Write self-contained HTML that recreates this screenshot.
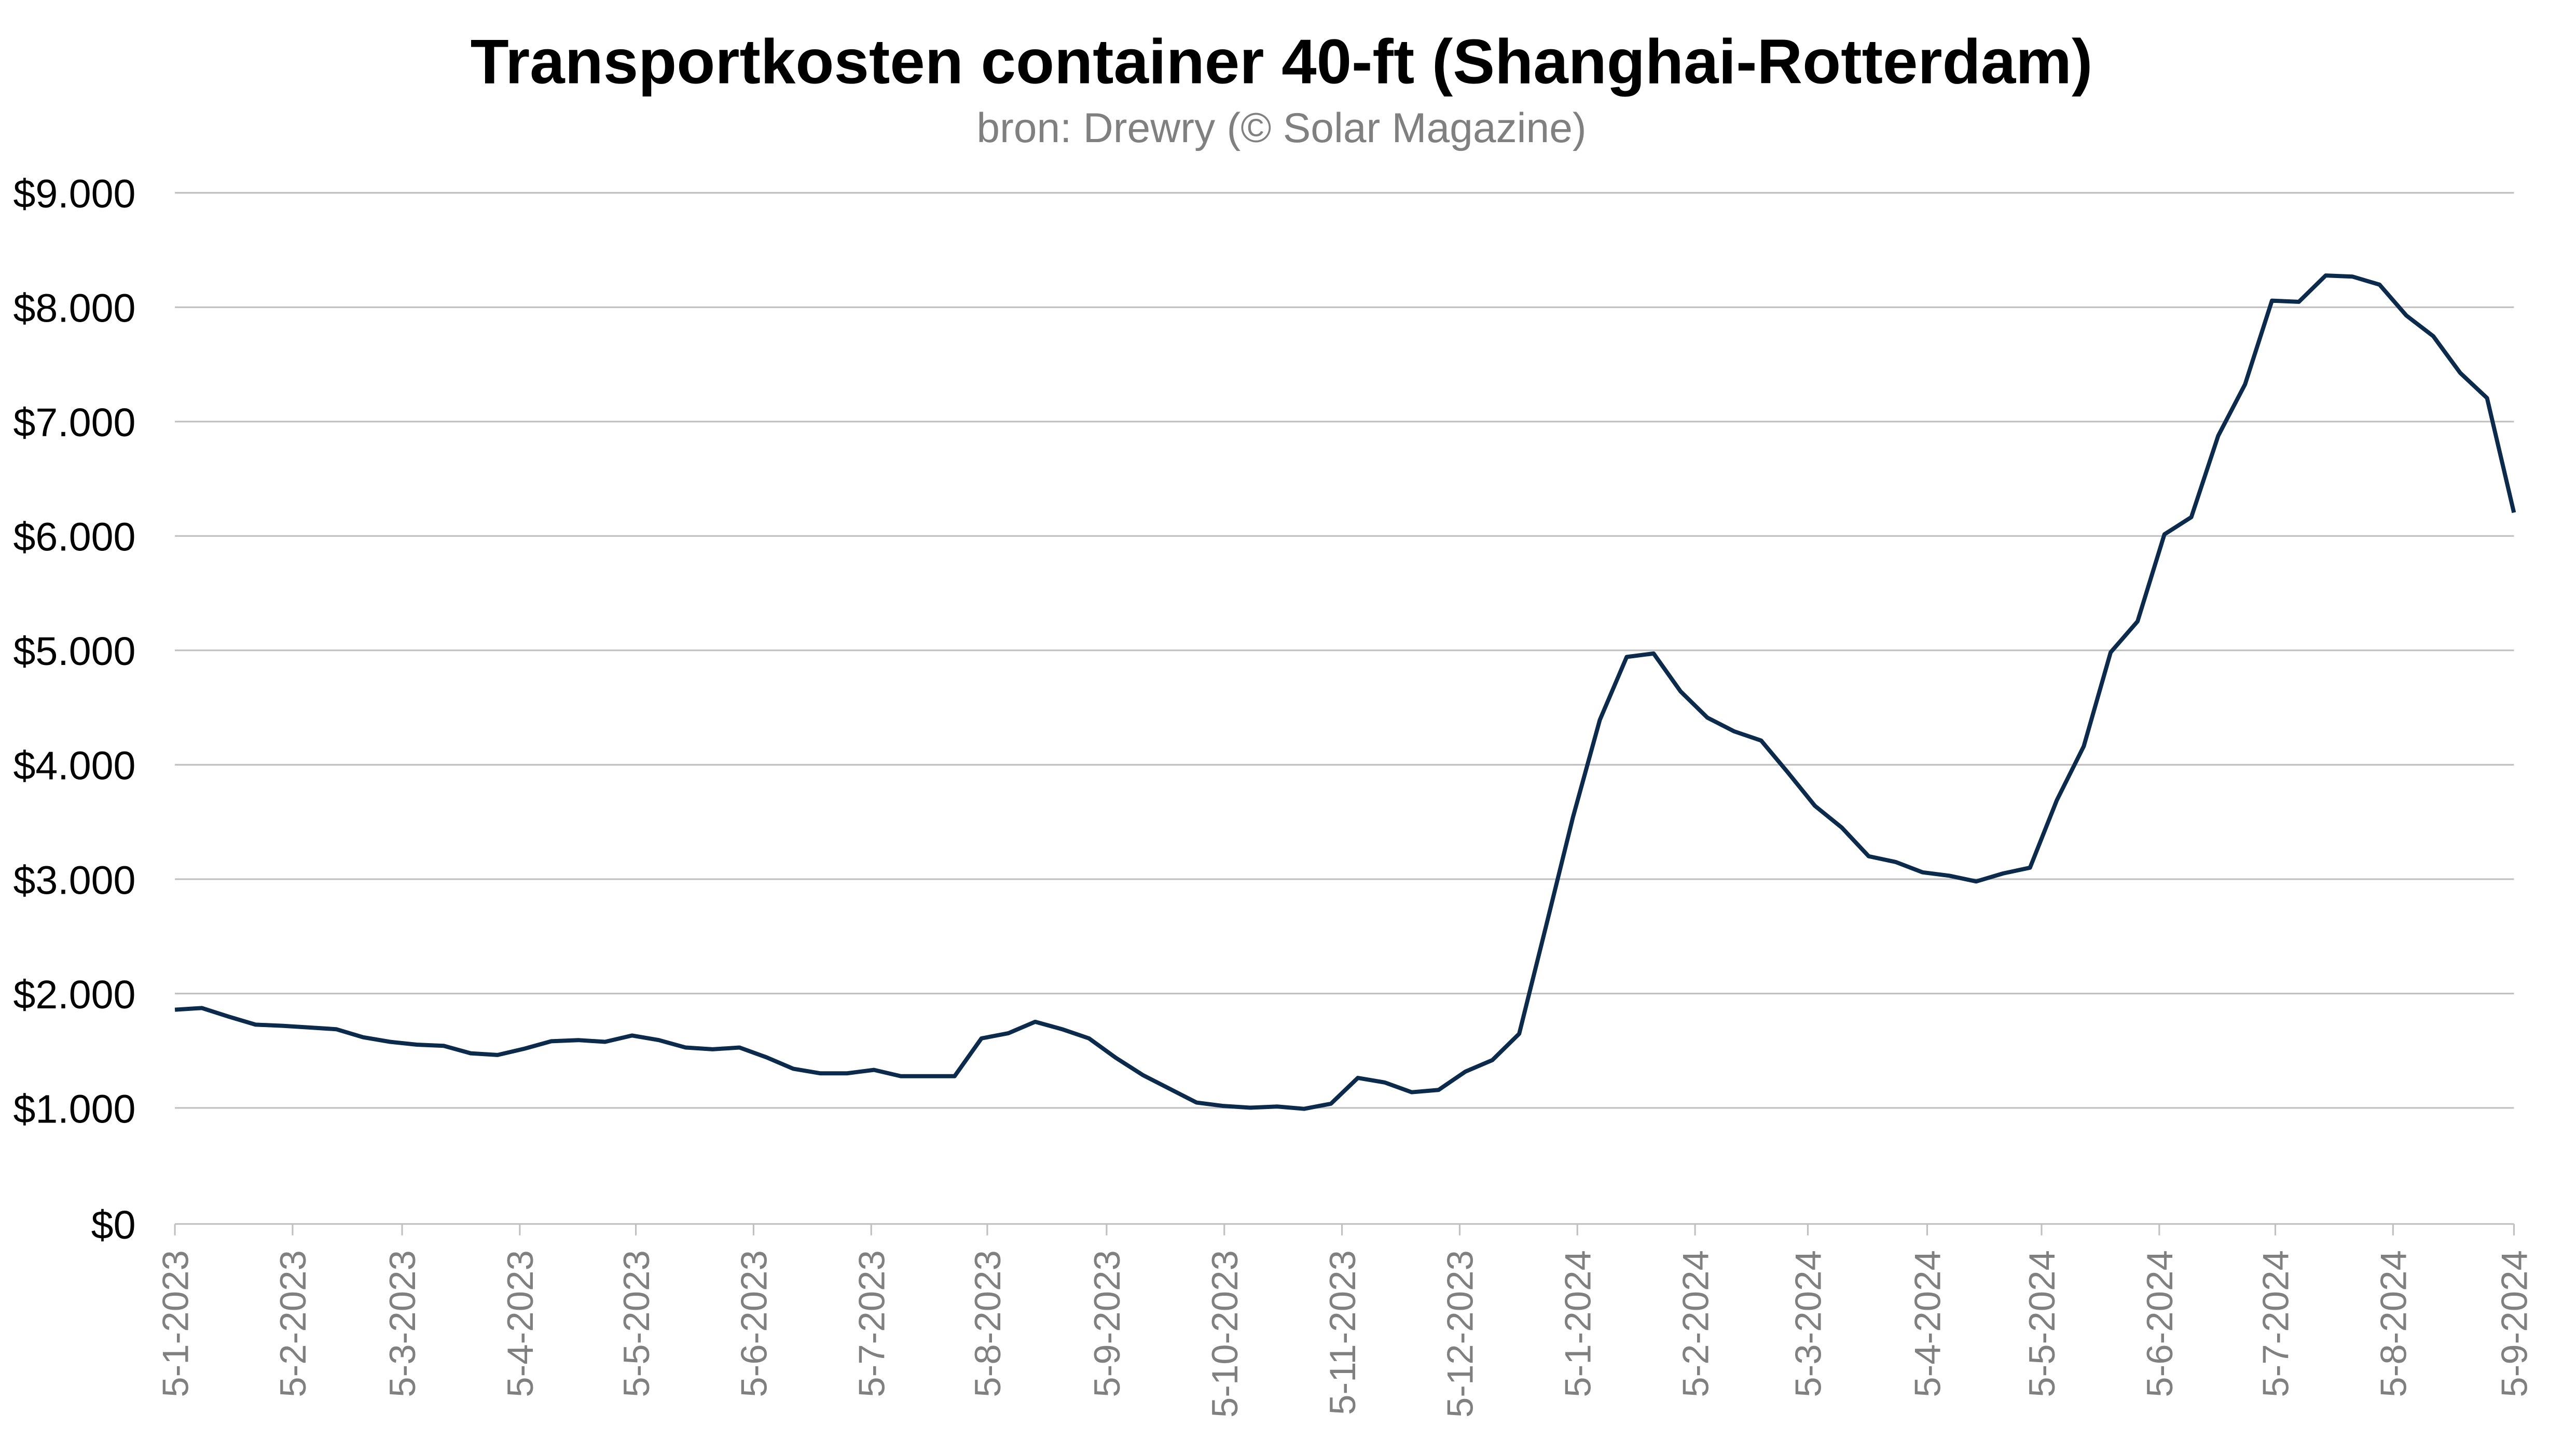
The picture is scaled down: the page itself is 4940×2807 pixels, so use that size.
<!DOCTYPE html>
<html><head><meta charset="utf-8"><style>
html,body{margin:0;padding:0;background:#fff;}
svg{display:block;}
</style></head><body>
<svg width="4940" height="2807" viewBox="0 0 1568 891" preserveAspectRatio="none" xmlns="http://www.w3.org/2000/svg" font-family="Liberation Sans, Arial, sans-serif">
<rect width="1568" height="891" fill="#fff"/>
<text x="784" y="51" text-anchor="middle" font-size="38.5" font-weight="bold" fill="#000">Transportkosten container 40-ft (Shanghai-Rotterdam)</text>
<text x="784" y="87" text-anchor="middle" font-size="25.5" fill="#808080">bron: Drewry (© Solar Magazine)</text>
<g stroke="#c0c0c0" stroke-width="1">
<line x1="107" x2="1538" y1="118" y2="118"/><line x1="107" x2="1538" y1="188" y2="188"/>
<line x1="107" x2="1538" y1="258" y2="258"/><line x1="107" x2="1538" y1="328" y2="328"/>
<line x1="107" x2="1538" y1="398" y2="398"/><line x1="107" x2="1538" y1="468" y2="468"/>
<line x1="107" x2="1538" y1="538" y2="538"/><line x1="107" x2="1538" y1="608" y2="608"/>
<line x1="107" x2="1538" y1="678" y2="678"/><line x1="107" x2="1538" y1="749" y2="749"/>
</g>
<g font-size="24.5" fill="#000" text-anchor="end">
<text x="83" y="127">$9.000</text><text x="83" y="197">$8.000</text><text x="83" y="267">$7.000</text>
<text x="83" y="337">$6.000</text><text x="83" y="407">$5.000</text><text x="83" y="477">$4.000</text>
<text x="83" y="547">$3.000</text><text x="83" y="617">$2.000</text><text x="83" y="687">$1.000</text>
<text x="83" y="758">$0</text>
</g>
<g stroke="#c0c0c0" stroke-width="1">
<line x1="107" x2="107" y1="749" y2="756"/><line x1="179" x2="179" y1="749" y2="756"/><line x1="246" x2="246" y1="749" y2="756"/><line x1="318" x2="318" y1="749" y2="756"/><line x1="389" x2="389" y1="749" y2="756"/><line x1="461" x2="461" y1="749" y2="756"/><line x1="533" x2="533" y1="749" y2="756"/><line x1="604" x2="604" y1="749" y2="756"/><line x1="677" x2="677" y1="749" y2="756"/><line x1="749" x2="749" y1="749" y2="756"/><line x1="821" x2="821" y1="749" y2="756"/><line x1="893" x2="893" y1="749" y2="756"/><line x1="965" x2="965" y1="749" y2="756"/><line x1="1037" x2="1037" y1="749" y2="756"/><line x1="1106" x2="1106" y1="749" y2="756"/><line x1="1179" x2="1179" y1="749" y2="756"/><line x1="1249" x2="1249" y1="749" y2="756"/><line x1="1321" x2="1321" y1="749" y2="756"/><line x1="1392" x2="1392" y1="749" y2="756"/><line x1="1464" x2="1464" y1="749" y2="756"/><line x1="1538" x2="1538" y1="749" y2="756"/>
</g>
<g font-size="22.5" fill="#808080" text-anchor="end">
<text transform="translate(115,765) rotate(-90)">5-1-2023</text>
<text transform="translate(187,765) rotate(-90)">5-2-2023</text>
<text transform="translate(254,765) rotate(-90)">5-3-2023</text>
<text transform="translate(326,765) rotate(-90)">5-4-2023</text>
<text transform="translate(397,765) rotate(-90)">5-5-2023</text>
<text transform="translate(469,765) rotate(-90)">5-6-2023</text>
<text transform="translate(541,765) rotate(-90)">5-7-2023</text>
<text transform="translate(612,765) rotate(-90)">5-8-2023</text>
<text transform="translate(685,765) rotate(-90)">5-9-2023</text>
<text transform="translate(757,765) rotate(-90)">5-10-2023</text>
<text transform="translate(829,765) rotate(-90)">5-11-2023</text>
<text transform="translate(901,765) rotate(-90)">5-12-2023</text>
<text transform="translate(973,765) rotate(-90)">5-1-2024</text>
<text transform="translate(1045,765) rotate(-90)">5-2-2024</text>
<text transform="translate(1114,765) rotate(-90)">5-3-2024</text>
<text transform="translate(1187,765) rotate(-90)">5-4-2024</text>
<text transform="translate(1257,765) rotate(-90)">5-5-2024</text>
<text transform="translate(1329,765) rotate(-90)">5-6-2024</text>
<text transform="translate(1400,765) rotate(-90)">5-7-2024</text>
<text transform="translate(1472,765) rotate(-90)">5-8-2024</text>
<text transform="translate(1546,765) rotate(-90)">5-9-2024</text>
</g>
<polyline fill="none" stroke="#0c2a4b" stroke-width="8" stroke-linejoin="round" transform="translate(107,749) scale(16.448,-0.0701)" vector-effect="non-scaling-stroke"
points="0,1870 1,1885 2,1810 3,1740 4,1730 5,1715 6,1700 7,1630 8,1590 9,1565 10,1555 11,1490 12,1475 13,1530 14,1595 15,1605 16,1590 17,1645 18,1605 19,1540 20,1525 21,1540 22,1455 23,1355 24,1315 25,1315 26,1345 27,1290 28,1290 29,1290 30,1620 31,1665 32,1765 33,1700 34,1620 35,1450 36,1300 37,1180 38,1060 39,1030 40,1015 41,1025 42,1005 43,1050 44,1275 45,1235 46,1150 47,1170 48,1330 49,1430 50,1660 51,2600 52,3550 53,4400 54,4950 55,4980 56,4650 57,4420 58,4300 59,4220 60,3940 61,3650 62,3460 63,3210 64,3160 65,3070 66,3040 67,2990 68,3060 69,3110 70,3700 71,4170 72,4990 73,5260 74,6020 75,6170 76,6880 77,7330 78,8060 79,8050 80,8280 81,8270 82,8200 83,7930 84,7750 85,7430 86,7210 87,6210"/>
</svg>
</body></html>
